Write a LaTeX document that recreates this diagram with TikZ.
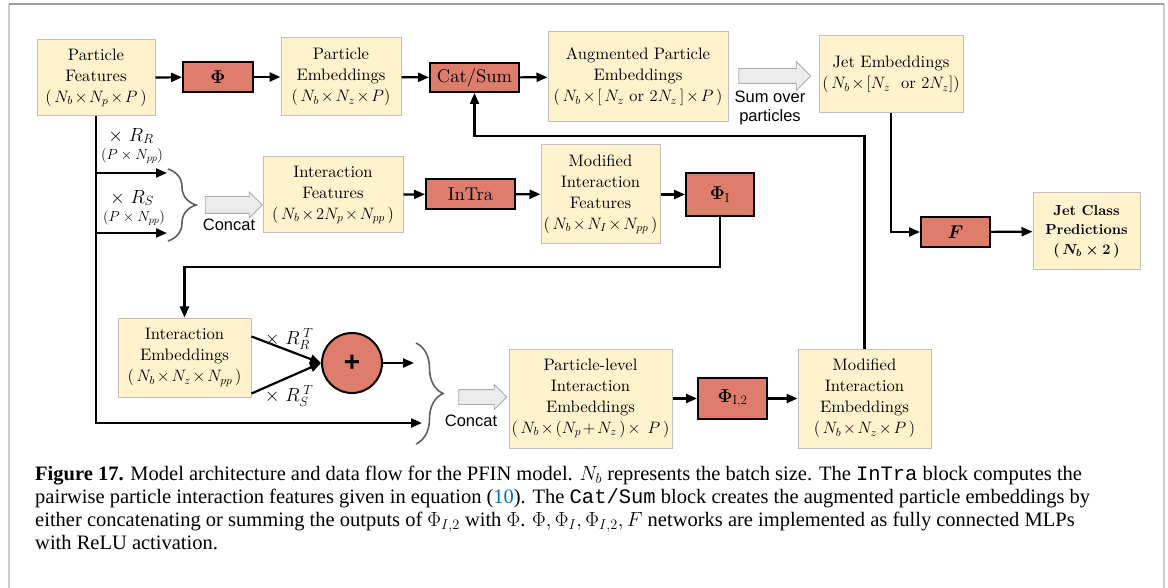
\RequirePackage{fix-cm}
\documentclass[tikz,border=0pt]{standalone}
\usepackage[no-math]{fontspec}
\usepackage{bm}
\newfontfamily\sansfnt{Liberation Sans}
\newfontfamily\capfnt{Liberation Serif}
\newfontfamily\capmono{Liberation Mono}
\newfontfamily\boxfnt[Extension=.otf, BoldFont=lmroman10-bold]{lmroman10-regular}
\usetikzlibrary{arrows.meta, positioning, shapes.arrows, decorations.pathreplacing, calc}

\definecolor{boxyellow}{RGB}{255,242,204}
\definecolor{boxedge}{RGB}{191,191,191}
\definecolor{netred}{RGB}{222,125,108}
\definecolor{bracegray}{RGB}{95,95,95}
\definecolor{linkblue}{RGB}{0,110,190}

% shape line inside the boxes
\newcommand{\shapeof}[1]{{\fontsize{16.5}{21}\selectfont\medmuskip=2mu\relax$#1$}}

\begin{document}
\begin{tikzpicture}[
    x=1pt, y=-1pt,
    >={Triangle[length=11pt,width=9pt]},
    feat/.style={draw=boxedge, fill=boxyellow, line width=1pt, align=center,
        inner sep=1pt, font=\boxfnt\fontsize{16.6}{21}\selectfont},
    net/.style={draw=black, fill=netred, line width=2pt, inner sep=1pt,
        font=\boxfnt\fontsize{18.5}{22}\selectfont},
    wire/.style={line width=2.2pt},
    flow/.style={wire, ->},
    blockarrow/.style={single arrow, draw=gray!65, fill=gray!15, line width=0.8pt,
        inner xsep=0pt, anchor=center},
    curly/.style={decorate, decoration={brace, amplitude=#1}, draw=bracegray, line width=1.6pt},
    side_text/.style={font=\sansfnt\fontsize{16.5}{19}\selectfont, align=center},
    mult/.style={font=\fontsize{19}{20}\selectfont},
    dims/.style={font=\fontsize{14.5}{16}\selectfont},
    capline/.style={anchor=base west, inner sep=0pt, font=\capfnt\fontsize{20.5}{23}\selectfont}
]
    \useasboundingbox (0,0) rectangle (1168,588);

    % === Frame ===
    \draw[gray!40, line width=2pt] (9,588) -- (9,4);
    \draw[gray!40, line width=2pt] (1164,4) -- (1164,588);
    \draw[gray!75, line width=1.5pt] (9,4) -- (1164,4);

    % === 1. Particle branch ===
    \node[feat, minimum width=118pt, minimum height=76pt] (pf) at (96,78)
        {Particle\\Features\\{}\shapeof{(\,N_b\times N_p\times P\,)}};
    \node[net, minimum width=70pt, minimum height=30pt] (phi) at (218,77) {$\mathbf{\Phi}$};
    \node[feat, minimum width=120pt, minimum height=78pt] (pe) at (341,77)
        {Particle\\Embeddings\\{}\shapeof{(\,N_b\times N_z\times P)}};
    \node[net, minimum width=89pt, minimum height=29pt] (cat) at (474.5,77.5) {Cat/Sum};
    \node[feat, minimum width=180pt, minimum height=90pt] (ape) at (638,77)
        {Augmented Particle\\Embeddings\\{}\shapeof{(\,N_b\times[\,N_z\mbox{ or }2N_z\,]\times P\,)}};
    \node[blockarrow, minimum height=72pt, inner ysep=7pt, single arrow head extend=7pt] (sumarrow) at (771,76) {};
    \node[side_text] (sumlbl) at (770,108) {Sum over\\particles};
    \node[feat, minimum width=144pt, minimum height=77pt] (je) at (891,74.5)
        {Jet Embeddings\\{}\shapeof{(\,N_b\times[N_z\mbox{ ~or }2N_z])}};
    \node[net, minimum width=69pt, minimum height=30pt] (fnet) at (955.5,232) {$\bm{F}$};
    \node[feat, minimum width=107pt, minimum height=77pt, font=\boxfnt\bfseries\boldmath\fontsize{14.5}{19.5}\selectfont] (jcp) at (1086.5,231.5)
        {Jet Class\\Predictions\\$(\,N_b\times 2\,)$};

    \draw[flow] (pf) -- (phi);
    \draw[flow] (phi) -- (pe);
    \draw[flow] (pe) -- (cat);
    \draw[flow] (cat) -- (ape);
    \draw[flow] (je.south) |- (fnet.west);
    \draw[flow] (fnet) -- (jcp);

    % === 2. Interaction features ===
    \coordinate (rrEnd) at (167,173);
    \coordinate (rsEnd) at (167,233);
    \coordinate (skipEnd) at (422,423);
    \draw[flow] (pf.south) |- (skipEnd);
    \draw[flow] (pf.south |- rrEnd) -- (rrEnd);
    \draw[flow] (pf.south |- rsEnd) -- (rsEnd);
    \node[mult] (rrLbl) at (131,136) {$\times\ R_R$};
    \node[dims] (rrDim) at (132,156) {$(P\times N_{pp})$};
    \node[mult] (rsLbl) at (132,198) {$\times\ R_S$};
    \node[dims] (rsDim) at (134,218) {$(P\times N_{pp})$};
    \draw[curly=28pt] (168,169) -- (168,241);
    \node[blockarrow, minimum height=57pt, inner ysep=8pt, single arrow head extend=4.5pt] (concatA) at (229.5,205) {};
    \node[side_text] (concatLblA) at (229,225) {Concat};

    \node[feat, minimum width=140pt, minimum height=76pt] (intf) at (333,195)
        {Interaction\\Features\\{}\shapeof{(\,N_b\times 2N_p\times N_{pp}\,)}};
    \node[net, minimum width=89pt, minimum height=30pt] (intra) at (470.5,194) {InTra};
    \node[feat, minimum width=119pt, minimum height=99pt] (mif) at (600.5,194.5)
        {Modified\\Interaction\\Features\\{}\shapeof{(\,N_b\times N_I\times N_{pp}\,)}};
    \node[net, minimum width=68pt, minimum height=43pt] (phii) at (720,194.5) {$\mathbf{\Phi}_{\mathrm{I}}$};

    \draw[flow] (intf) -- (intra);
    \draw[flow] (intra) -- (mif);
    \draw[flow] (mif) -- (phii);

    % === 3. Interaction embeddings ===
    \coordinate (loopY) at (0,267);
    \coordinate (backY) at (0,136);
    \coordinate (sumEnd) at (414,363);
    \node[feat, minimum width=133pt, minimum height=79pt] (ie) at (184.5,357.5)
        {Interaction\\Embeddings\\{}\shapeof{(\,N_b\times N_z\times N_{pp}\,)}};
    \node[circle, draw=black, fill=netred, line width=2pt, minimum size=60pt, inner sep=0pt,
        font=\sansfnt\bfseries\fontsize{28}{28}\selectfont] (plus) at (352,363) {+};
    \node[mult] (rrtLbl) at (289,339) {$\times\ R_R^{\;T}$};
    \node[mult] (rstLbl) at (289,396) {$\times\ R_S^{\;T}$};
    \draw[curly=27pt] (416,343) -- (416,444);
    \node[blockarrow, minimum height=48pt, inner ysep=7pt, single arrow head extend=5pt] (concatB) at (479,397) {};
    \node[side_text] (concatLblB) at (471,421) {Concat};

    \node[feat, minimum width=163pt, minimum height=99pt] (plie) at (590.5,398.5)
        {Particle-level\\Interaction\\Embeddings\\{}\shapeof{(\,N_b\times(N_p+N_z\,)\times\ P\,)}};
    \node[net, minimum width=69pt, minimum height=41pt] (phii2) at (732.5,398.5) {$\mathbf{\Phi}_{\mathrm{I,2}}$};
    \node[feat, minimum width=133pt, minimum height=99pt] (mie) at (864.5,398.5)
        {Modified\\Interaction\\Embeddings\\{}\shapeof{(\,N_b\times N_z\times P\,)}};

    \draw[flow] (phii.south) -- (phii.south |- loopY) -| (ie.north);
    \draw[flow] ($(ie.north east)+(0,19)$) -- (plus.west);
    \draw[flow] ($(ie.south east)+(0,-4)$) -- (plus.west);
    \draw[flow] (plus) -- (sumEnd);
    \draw[flow] (plie) -- (phii2);
    \draw[flow] (phii2) -- (mie);
    \draw[flow] (mie.north) -- (mie.north |- backY) -| (cat.south);

    % === Caption ===
    \node[capline] (cap1) at (35,480) {\textbf{Figure 17.} Model architecture and data flow for the PFIN model. $N_b$ represents the batch size. The {\capmono InTra} block computes the};
    \node[capline] (cap2) at (35,503) {pairwise particle interaction features given in equation (\textcolor{linkblue}{10}). The {\capmono Cat/Sum} block creates the augmented particle embeddings by};
    \node[capline] (cap3) at (35,526) {either concatenating or summing the outputs of $\Phi_{I,2}$ with $\Phi$. $\Phi, \Phi_I, \Phi_{I,2}, F$ networks are implemented as fully connected MLPs};
    \node[capline] (cap4) at (35,549) {with ReLU activation.};

\end{tikzpicture}
\end{document}
